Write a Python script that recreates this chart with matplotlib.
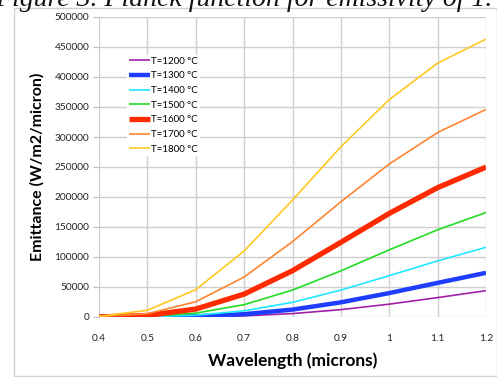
import matplotlib
matplotlib.use("Agg")
import matplotlib.pyplot as plt
from matplotlib.patches import Rectangle

wavelength = [0.4, 0.5, 0.6, 0.7, 0.8, 0.9, 1.0, 1.1, 1.2]
labels = ["T=1200 °C", "T=1300 °C", "T=1400 °C", "T=1500 °C",
          "T=1600 °C", "T=1700 °C", "T=1800 °C"]
t1200 = [1, 39, 409, 1939, 5687, 12260, 21424, 32332, 43868]
t1300 = [4, 136, 1152, 4706, 12357, 24444, 39868, 56890, 73620]
t1400 = [17, 406, 2868, 10277, 24489, 44853, 68901, 93537, 116170]
t1500 = [57, 1071, 6434, 20550, 44891, 76919, 111920, 145410, 174090]
t1600 = [167, 2545, 13245, 38166, 77150, 124450, 172600, 215570, 249840]
t1700 = [442, 5553, 25372, 66617, 125630, 191990, 254990, 307460, 345980]
t1800 = [1063, 11203, 45542, 109970, 194880, 283680, 362300, 423160, 463080]
series = [t1200, t1300, t1400, t1500, t1600, t1700, t1800]

colors = ["#A020A8", "#1F3CFF", "#20E8FF", "#22DD22", "#FF2A00", "#FF8530", "#FFC820"]
widths = [1.2, 3.2, 1.2, 1.2, 3.8, 1.2, 1.2]

fig = plt.figure(figsize=(4.97, 3.77), dpi=100)
fig.patch.set_facecolor("white")
# outer chart border
fig.patches.append(Rectangle((14/497, 1/377), 483/497, 368/377, transform=fig.transFigure,
                             fill=False, edgecolor="#D0D0D0", linewidth=1.0))
ax = fig.add_axes([99/497, 1-317/377, 387/497, 300/377])
for s, c, w, l in zip(series, colors, widths, labels):
    ax.plot(wavelength, s, color=c, linewidth=w, label=l, solid_capstyle="butt")

ax.set_xlim(0.4, 1.2)
ax.set_ylim(0, 500000)
ax.set_xticks([0.4, 0.5, 0.6, 0.7, 0.8, 0.9, 1.0, 1.1, 1.2])
ax.set_xticklabels(["0.4", "0.5", "0.6", "0.7", "0.8", "0.9", "1", "1.1", "1.2"])
ax.set_yticks(range(0, 500001, 50000))
ax.set_yticklabels([str(v) for v in range(0, 500001, 50000)])
ax.grid(True, color="#CFCFCF", linewidth=1.0)
ax.set_axisbelow(True)
for sp in ax.spines.values():
    sp.set_visible(False)
ax.tick_params(axis="y", length=4, color="#BBBBBB", labelsize=7.3, pad=3, labelcolor="#222222")
ax.tick_params(axis="x", length=0, labelsize=7.3, pad=12, labelcolor="#222222")
for t in ax.get_xticklabels() + ax.get_yticklabels():
    t.set_family("Lato")

ax.set_xlabel("Wavelength (microns)", fontsize=12.5, fontweight="bold", family="Lato", labelpad=7)
ax.set_ylabel("Emittance (W/m2/micron)", fontsize=11.5, fontweight="bold", family="Lato", labelpad=7)

leg = ax.legend(loc="upper left", bbox_to_anchor=(0.06, 0.89), frameon=True, fancybox=False,
                edgecolor="none", facecolor="white", framealpha=1.0,
                prop={"family": "Lato", "size": 7}, handlelength=2.2, handletextpad=0.1,
                labelspacing=0.58, borderpad=0.2)

fig.text(0.49, 1.0, "Figure 3. Planck function for emissivity of 1.", ha="center", va="center",
         family="Liberation Serif", style="italic", fontsize=20, color="#111111")

fig.savefig("out.png", dpi=100)
